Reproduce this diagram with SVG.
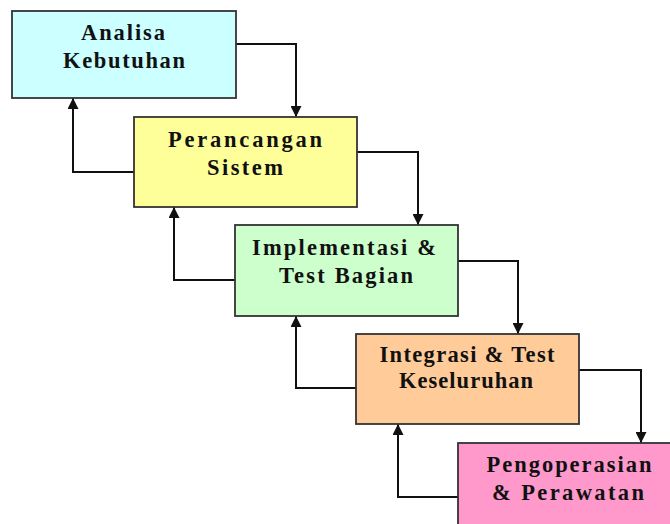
<svg xmlns="http://www.w3.org/2000/svg" width="670" height="524" viewBox="0 0 670 524">
  <style>
    .box { stroke: #333333; stroke-width: 1.8; }
    .lbl { font-family: "Liberation Serif", "Times New Roman", serif; font-weight: bold; font-size: 22.5px; fill: #111111; text-anchor: middle; }
    .wire { fill: none; stroke: #111111; stroke-width: 2; marker-end: url(#head); }
  </style>
  <defs>
    <marker id="head" viewBox="0 0 10 10" refX="10" refY="5" markerWidth="12" markerHeight="11" markerUnits="userSpaceOnUse" orient="auto">
      <path d="M0,0 L10,5 L0,10 Z" fill="#111111"/>
    </marker>
  </defs>
  <rect width="670" height="524" fill="#ffffff"/>

  <g id="connectors">
    <!-- forward flow -->
    <path class="wire" d="M236,44 H296 V117"/>
    <path class="wire" d="M357,152 H418 V225"/>
    <path class="wire" d="M458,261 H518 V334"/>
    <path class="wire" d="M579,370 H641 V443"/>
    <!-- feedback -->
    <path class="wire" d="M134,172 H73 V98"/>
    <path class="wire" d="M235,280 H174 V207"/>
    <path class="wire" d="M356,388 H296 V316"/>
    <path class="wire" d="M458,497 H398 V424"/>
  </g>

  <g id="analisa">
    <rect class="box" x="12" y="11" width="224" height="87" fill="#ccffff"/>
    <text class="lbl" x="123" y="40" textLength="84" lengthAdjust="spacing">Analisa</text>
    <text class="lbl" x="124" y="68" textLength="122" lengthAdjust="spacing">Kebutuhan</text>
  </g>

  <g id="perancangan">
    <rect class="box" x="134" y="117" width="223" height="90" fill="#ffff99"/>
    <text class="lbl" x="245" y="147" textLength="154" lengthAdjust="spacing">Perancangan</text>
    <text class="lbl" x="245" y="175" textLength="76" lengthAdjust="spacing">Sistem</text>
  </g>

  <g id="implementasi">
    <rect class="box" x="235" y="225" width="223" height="91" fill="#ccffcc"/>
    <text class="lbl" x="344" y="255" textLength="184" lengthAdjust="spacing">Implementasi &amp;</text>
    <text class="lbl" x="346" y="283" textLength="134" lengthAdjust="spacing">Test Bagian</text>
  </g>

  <g id="integrasi">
    <rect class="box" x="356" y="334" width="223" height="90" fill="#ffcc99"/>
    <text class="lbl" x="467" y="362" textLength="175" lengthAdjust="spacing">Integrasi &amp; Test</text>
    <text class="lbl" x="466" y="388" textLength="134" lengthAdjust="spacing">Keseluruhan</text>
  </g>

  <g id="pengoperasian">
    <rect class="box" x="458" y="443" width="230" height="90" fill="#ff99cc"/>
    <text class="lbl" x="569" y="472" textLength="165" lengthAdjust="spacing">Pengoperasian</text>
    <text class="lbl" x="568" y="500" textLength="152" lengthAdjust="spacing">&amp; Perawatan</text>
  </g>
</svg>
